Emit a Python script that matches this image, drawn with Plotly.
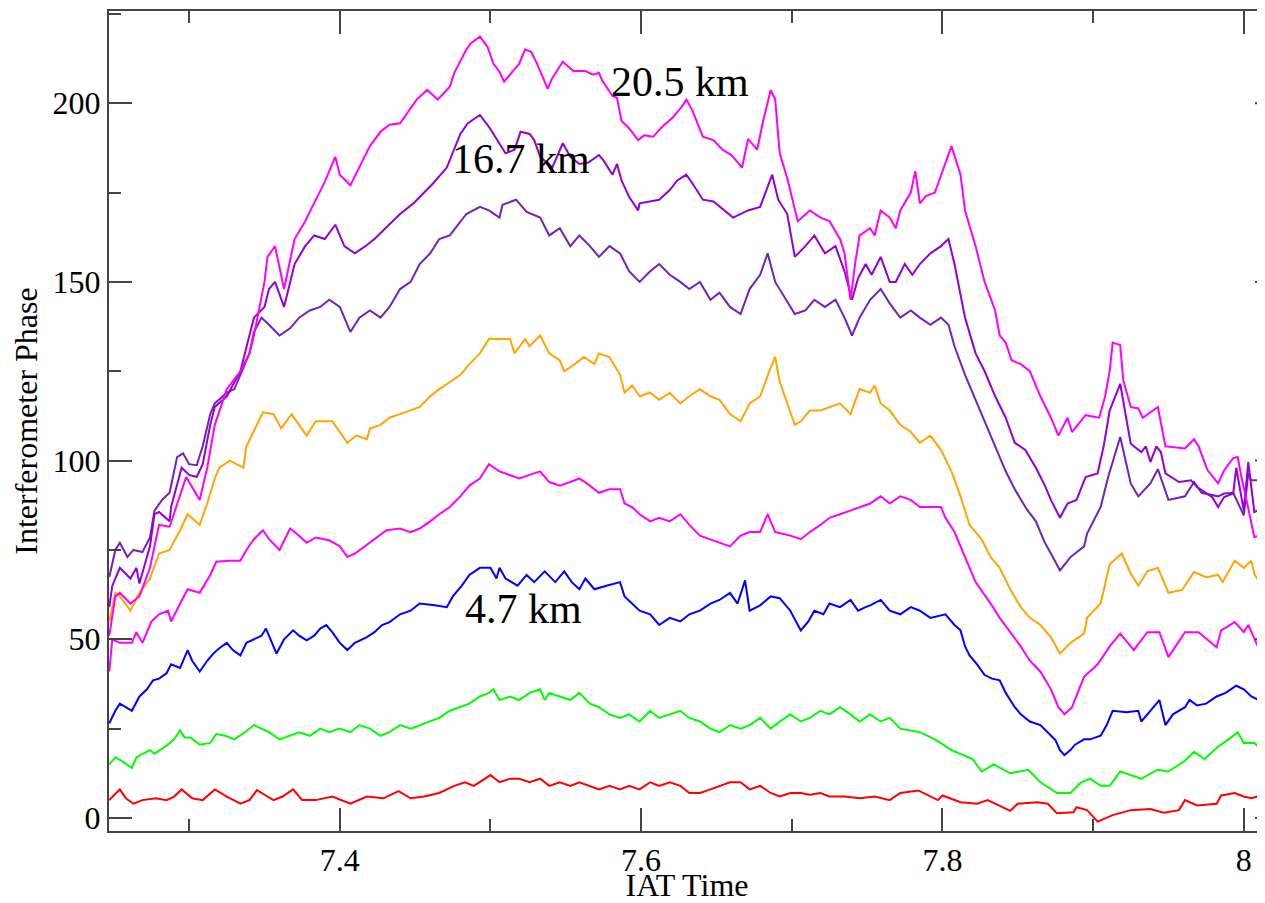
import plotly.graph_objects as go

# ---------------- data ----------------
red_t = [7.247, 7.254, 7.258, 7.263, 7.269, 7.278, 7.285, 7.290, 7.295, 7.302, 7.309, 7.317, 7.325, 7.334, 7.340,
         7.345, 7.350, 7.356, 7.362, 7.369, 7.375, 7.384, 7.395, 7.407, 7.418, 7.429, 7.439, 7.447, 7.456, 7.466,
         7.476, 7.483, 7.489, 7.496, 7.500, 7.506, 7.513, 7.519, 7.526, 7.533, 7.539, 7.546, 7.553, 7.559, 7.566,
         7.572, 7.579, 7.586, 7.592, 7.599, 7.606, 7.612, 7.619, 7.626, 7.632, 7.639, 7.646, 7.652, 7.659, 7.666,
         7.672, 7.679, 7.686, 7.692, 7.699, 7.706, 7.712, 7.719, 7.725, 7.735, 7.745, 7.755, 7.765, 7.772, 7.784,
         7.797, 7.800, 7.812, 7.823, 7.830, 7.845, 7.850, 7.863, 7.870, 7.876, 7.887, 7.889, 7.896, 7.903, 7.913,
         7.925, 7.938, 7.947, 7.957, 7.961, 7.969, 7.982, 7.985, 7.994, 8.000, 8.005, 8.009, 8.014]
red_v = [5, 8, 5.5, 4, 5, 5.5, 5, 6, 8, 5.5, 5, 8, 6, 4, 5,
         7.8, 6.5, 5, 6, 8, 5, 5, 6, 4, 6, 5.5, 7.5, 5.5, 6, 7,
         9, 10, 9, 11, 12, 10, 11, 11, 10, 11, 9, 10, 9, 10, 9,
         8, 9, 8, 9, 8, 10, 9, 10, 9, 7, 7, 8, 9, 10, 10,
         8, 9, 7, 6, 7, 7, 6.5, 7, 6, 6, 5.5, 6, 5, 7, 7.7,
         5, 6.3, 4.4, 4, 5, 2, 4, 4.4, 4, 1.3, 1.6, 3, 2.2, -1, 0.8,
         2.2, 2.5, 1.5, 2.2, 5, 3.5, 4, 6.3, 7, 6, 5.5, 6, 5]

green_t = [7.247, 7.251, 7.257, 7.262, 7.265, 7.274, 7.277, 7.286, 7.290, 7.294, 7.297, 7.301, 7.307, 7.314, 7.318,
           7.324, 7.330, 7.337, 7.343, 7.348, 7.353, 7.360, 7.367, 7.373, 7.380, 7.387, 7.393, 7.400, 7.407, 7.413,
           7.420, 7.427, 7.433, 7.440, 7.447, 7.453, 7.460, 7.466, 7.473, 7.480, 7.486, 7.493, 7.499, 7.502, 7.506,
           7.513, 7.519, 7.526, 7.533, 7.536, 7.539, 7.546, 7.553, 7.559, 7.566, 7.572, 7.579, 7.586, 7.592, 7.599,
           7.606, 7.612, 7.619, 7.626, 7.632, 7.639, 7.646, 7.652, 7.659, 7.666, 7.672, 7.679, 7.686, 7.692, 7.699,
           7.706, 7.712, 7.719, 7.725, 7.732, 7.739, 7.745, 7.752, 7.759, 7.765, 7.772, 7.785, 7.795, 7.806, 7.812,
           7.820, 7.826, 7.834, 7.845, 7.857, 7.865, 7.876, 7.885, 7.892, 7.898, 7.905, 7.911, 7.918, 7.932, 7.943,
           7.950, 7.961, 7.967, 7.974, 7.983, 7.990, 7.996, 8.000, 8.007, 8.014]
green_v = [15, 17, 15.5, 14, 17, 19, 18, 20.5, 22, 24.5, 22.5, 22.5, 20.5, 21, 23.5,
           23, 22, 24, 26, 25, 24, 22, 23, 24, 23, 25, 24, 25, 24, 26,
           25, 23, 24, 26, 25, 26, 27, 28, 30, 31, 32, 34, 35, 36, 33,
           34, 33, 35, 36, 33, 35, 34, 33, 35, 32, 31, 29, 28, 29, 27,
           30, 28, 29, 30, 28, 27, 25, 24, 26, 25, 26, 28, 25, 27, 29,
           27, 28, 30, 29, 31, 29, 27, 29, 27, 28, 25, 24, 22, 19, 18,
           16.5, 13, 15, 12.5, 13.5, 10, 7, 7, 10, 11, 9, 9, 13, 11, 13.5,
           13, 16, 18.5, 16.5, 20, 22, 24, 21, 21, 18]

blue_t = [7.247, 7.251, 7.254, 7.258, 7.262, 7.267, 7.272, 7.276, 7.280, 7.285, 7.288, 7.294, 7.299, 7.302, 7.307,
          7.312, 7.316, 7.320, 7.325, 7.329, 7.334, 7.338, 7.343, 7.348, 7.351, 7.355, 7.358, 7.363, 7.369, 7.373,
          7.378, 7.383, 7.387, 7.391, 7.395, 7.400, 7.405, 7.410, 7.415, 7.418, 7.423, 7.428, 7.433, 7.440, 7.447,
          7.453, 7.463, 7.471, 7.475, 7.481, 7.486, 7.493, 7.500, 7.504, 7.506, 7.510, 7.518, 7.524, 7.529, 7.536,
          7.543, 7.549, 7.554, 7.559, 7.563, 7.569, 7.577, 7.586, 7.589, 7.594, 7.599, 7.606, 7.612, 7.619, 7.626,
          7.632, 7.639, 7.646, 7.652, 7.659, 7.664, 7.669, 7.672, 7.679, 7.686, 7.692, 7.699, 7.706, 7.711, 7.715,
          7.721, 7.725, 7.732, 7.739, 7.744, 7.749, 7.752, 7.759, 7.765, 7.772, 7.779, 7.785, 7.792, 7.802, 7.808,
          7.812, 7.815, 7.818, 7.823, 7.828, 7.833, 7.838, 7.842, 7.845, 7.848, 7.852, 7.858, 7.865, 7.870, 7.875,
          7.878, 7.881, 7.885, 7.888, 7.894, 7.898, 7.905, 7.909, 7.913, 7.922, 7.930, 7.932, 7.938, 7.944, 7.948,
          7.953, 7.961, 7.964, 7.969, 7.975, 7.982, 7.988, 7.995, 8.000, 8.005, 8.010, 8.014]
blue_v = [26.5, 30, 32, 31, 30, 34, 36, 38.5, 39, 40.5, 43, 42, 47, 44, 41,
          44, 46, 47.5, 49, 47, 45.5, 49, 50, 51, 53, 49, 46, 50, 52.5, 51,
          49.7, 51, 53, 54, 52, 49, 47, 49, 50, 50.6, 52, 54, 54.8, 57, 58,
          60, 59.5, 59, 62, 65, 68, 70, 70, 67, 70, 67, 65, 68, 66, 69,
          66, 69, 66, 64, 67, 64, 65, 66, 62, 60, 58, 57, 54, 56, 55,
          57, 58, 60, 61, 63, 60, 66.5, 58, 59.5, 62, 61.5, 58, 52.5, 55, 58,
          57, 60, 59, 61, 58, 59, 59.5, 61, 58, 57, 59, 58, 56, 57, 54,
          52.5, 48, 45.5, 43, 40, 39, 38.5, 35, 33, 31, 29, 27, 26, 24, 21.8,
          19, 17.6, 19, 20.5, 22, 22, 23, 26, 30, 29.6, 30, 27, 30, 33, 26,
          29, 31, 33, 31.5, 32, 34, 35, 37, 36, 34, 33, 31]

magenta_low_t = [7.247, 7.249, 7.254, 7.262, 7.265, 7.269, 7.275, 7.280, 7.286, 7.288, 7.294, 7.299, 7.307, 7.314,
                 7.318, 7.327, 7.334, 7.338, 7.343, 7.349, 7.353, 7.360, 7.367, 7.373, 7.378, 7.384, 7.393, 7.400,
                 7.405, 7.410, 7.415, 7.423, 7.431, 7.440, 7.447, 7.453, 7.460, 7.466, 7.473, 7.480, 7.486, 7.493,
                 7.499, 7.506, 7.513, 7.519, 7.526, 7.533, 7.539, 7.546, 7.553, 7.559, 7.566, 7.572, 7.579, 7.586,
                 7.589, 7.594, 7.599, 7.606, 7.612, 7.619, 7.626, 7.632, 7.639, 7.646, 7.652, 7.659, 7.666, 7.672,
                 7.679, 7.684, 7.689, 7.699, 7.706, 7.712, 7.719, 7.725, 7.732, 7.739, 7.745, 7.752, 7.759, 7.765,
                 7.772, 7.779, 7.785, 7.792, 7.799, 7.802, 7.808, 7.815, 7.822, 7.832, 7.838, 7.845, 7.852, 7.858,
                 7.865, 7.872, 7.877, 7.881, 7.886, 7.894, 7.903, 7.911, 7.918, 7.927, 7.936, 7.944, 7.950, 7.961,
                 7.970, 7.982, 7.985, 7.994, 8.000, 8.003, 8.011, 8.014]
magenta_low_v = [41, 50, 49, 49, 52, 49, 55, 57, 58, 55, 60, 64, 63, 68,
                 71.7, 72, 72, 75, 78, 80.5, 78, 75, 81, 79, 77, 78.5, 77.7, 76,
                 73, 74, 75.5, 78, 80.5, 81, 80, 81, 83, 85, 87, 90, 93, 95,
                 99, 97, 96, 95, 96, 97, 94, 93, 94, 95, 93, 91, 92, 92,
                 88, 87, 85, 83, 84, 83, 85, 82, 79, 78, 77, 76, 79, 80,
                 80, 85, 80, 79, 78, 80, 82, 84, 85, 86, 87, 88, 90, 88,
                 90, 89, 87, 87, 87, 84, 80, 73, 66, 60, 56, 52, 48, 44,
                 41, 36, 31, 29, 31, 39.5, 43, 48, 51.6, 47, 52, 52, 45, 52,
                 52, 47.8, 52.5, 54.8, 52, 54, 46.4, 46]

orange_t = [7.247, 7.251, 7.254, 7.261, 7.267, 7.274, 7.280, 7.287, 7.294, 7.299, 7.307, 7.312, 7.317, 7.320,
            7.327, 7.336, 7.338, 7.342, 7.349, 7.356, 7.361, 7.368, 7.373, 7.378, 7.384, 7.395, 7.405, 7.411,
            7.418, 7.420, 7.427, 7.433, 7.440, 7.447, 7.453, 7.460, 7.466, 7.473, 7.480, 7.486, 7.493, 7.499,
            7.506, 7.513, 7.516, 7.523, 7.526, 7.533, 7.539, 7.546, 7.549, 7.556, 7.562, 7.569, 7.572, 7.579,
            7.586, 7.589, 7.594, 7.599, 7.606, 7.612, 7.619, 7.626, 7.632, 7.639, 7.646, 7.652, 7.659, 7.666,
            7.672, 7.679, 7.686, 7.689, 7.692, 7.699, 7.702, 7.706, 7.712, 7.719, 7.725, 7.732, 7.739, 7.745,
            7.752, 7.755, 7.759, 7.765, 7.772, 7.779, 7.785, 7.792, 7.799, 7.806, 7.812, 7.818, 7.826, 7.832,
            7.838, 7.845, 7.852, 7.858, 7.865, 7.872, 7.878, 7.885, 7.894, 7.896, 7.905, 7.911, 7.919, 7.925,
            7.930, 7.936, 7.943, 7.950, 7.959, 7.967, 7.975, 7.983, 7.986, 7.994, 8.000, 8.005, 8.007, 8.012, 8.014]
orange_v = [55, 63, 62, 58, 63, 67, 74, 75, 80.5, 85, 82, 88, 95, 98,
            100, 98, 104, 107.6, 113.5, 113, 109, 113, 110, 107, 111, 111, 105, 107,
            106, 109, 110, 112, 113, 114, 115, 118, 120, 122, 124, 127, 130, 134,
            134, 134, 130, 134, 132, 135, 130, 128, 125, 127, 129, 127, 130, 129,
            124, 119, 121, 118, 119, 117, 119, 116, 118, 120, 118, 117, 113, 111,
            116, 118, 126, 129, 122, 114, 110, 111, 114, 114, 115, 116, 113, 120,
            119, 121, 116, 114, 110, 108, 105, 107, 103, 97, 90, 82, 78, 73,
            70, 64, 59, 56, 54, 50.6, 46, 49, 51.6, 56, 60, 71, 74, 68.4,
            65, 69, 70, 63, 63.8, 68.8, 67.4, 68, 66, 72, 70, 72, 68.4, 64.6, 59.6]

indigo_t = [7.247, 7.251, 7.254, 7.259, 7.263, 7.269, 7.274, 7.277, 7.282, 7.287, 7.292, 7.296, 7.300, 7.305,
            7.309, 7.314, 7.317, 7.325, 7.330, 7.340, 7.343, 7.348, 7.353, 7.360, 7.367, 7.373, 7.380, 7.387,
            7.393, 7.400, 7.407, 7.413, 7.420, 7.427, 7.433, 7.440, 7.447, 7.453, 7.460, 7.466, 7.473, 7.484,
            7.493, 7.499, 7.506, 7.508, 7.517, 7.524, 7.533, 7.539, 7.546, 7.553, 7.559, 7.566, 7.572, 7.579,
            7.586, 7.592, 7.599, 7.606, 7.612, 7.619, 7.626, 7.632, 7.639, 7.646, 7.652, 7.659, 7.666, 7.672,
            7.679, 7.684, 7.689, 7.696, 7.702, 7.709, 7.715, 7.722, 7.729, 7.735, 7.740, 7.745, 7.752, 7.759,
            7.765, 7.772, 7.779, 7.785, 7.792, 7.799, 7.804, 7.808, 7.815, 7.822, 7.828, 7.835, 7.842, 7.848,
            7.855, 7.862, 7.868, 7.872, 7.878, 7.885, 7.894, 7.896, 7.905, 7.910, 7.918, 7.925, 7.930, 7.938,
            7.943, 7.950, 7.961, 7.967, 7.972, 7.983, 7.987, 7.993, 8.000, 8.003, 8.005, 8.013, 8.014]
indigo_v = [67.4, 75, 77, 73, 75, 74.4, 78.5, 86, 89, 91, 101, 102, 99, 98.7,
            104, 113, 116, 119, 120, 130, 136, 140, 138, 135, 137, 140, 142, 143,
            145, 143, 136, 140, 142, 140, 143, 148, 150, 155, 158, 162, 163, 169,
            171, 170, 168, 171.6, 173, 169.6, 168, 163, 165, 160, 163, 160, 157, 160,
            158, 153, 150, 153, 155, 152, 150, 148, 150, 145, 147, 143, 141, 148,
            152, 158, 150, 145, 141, 142, 145, 143, 145, 140, 135, 140, 145, 148,
            144, 140, 142, 140, 138, 140, 138, 132, 124, 117, 111, 104, 97, 92,
            87, 83, 77, 74, 69.3, 73, 76, 79.6, 87, 95.4, 106.6, 93.6, 90, 93.6,
            97.6, 89, 90, 94, 91, 90, 90.8, 91, 84.7, 96.4, 94.5, 94.5, 95]

violet_t = [7.247, 7.249, 7.254, 7.261, 7.265, 7.267, 7.274, 7.277, 7.280, 7.287, 7.288, 7.295, 7.300, 7.305,
            7.309, 7.314, 7.317, 7.325, 7.334, 7.340, 7.343, 7.350, 7.353, 7.357, 7.363, 7.370, 7.377, 7.383,
            7.390, 7.397, 7.403, 7.410, 7.417, 7.423, 7.430, 7.440, 7.449, 7.462, 7.471, 7.480, 7.485, 7.493,
            7.499, 7.506, 7.510, 7.516, 7.520, 7.526, 7.529, 7.533, 7.541, 7.548, 7.553, 7.559, 7.565, 7.572,
            7.575, 7.581, 7.584, 7.587, 7.592, 7.598, 7.599, 7.612, 7.619, 7.624, 7.630, 7.634, 7.641, 7.648,
            7.655, 7.661, 7.671, 7.679, 7.687, 7.691, 7.697, 7.702, 7.709, 7.715, 7.722, 7.729, 7.735, 7.740,
            7.744, 7.749, 7.753, 7.759, 7.765, 7.769, 7.775, 7.780, 7.785, 7.792, 7.799, 7.804, 7.808, 7.815,
            7.822, 7.828, 7.835, 7.842, 7.848, 7.855, 7.862, 7.868, 7.872, 7.878, 7.883, 7.889, 7.895, 7.903,
            7.907, 7.911, 7.918, 7.925, 7.932, 7.935, 7.938, 7.942, 7.945, 7.948, 7.957, 7.965, 7.969, 7.979,
            7.983, 7.987, 7.993, 7.995, 8.000, 8.003, 8.007, 8.014]
violet_v = [59, 65, 70, 67, 70, 65.6, 76, 85, 85.6, 83, 87, 98, 96, 95.4,
            99, 110, 115, 118, 125, 135, 140, 143, 148, 150, 143, 155, 160, 163,
            162, 166, 160, 158, 160, 162, 165, 169, 172, 177.6, 182, 191.4, 194.4, 196.7,
            193.4, 188.8, 186, 187, 192, 191.4, 189.7, 185, 182, 188.8, 185, 183, 183.4, 185.5,
            184, 180, 183, 178.4, 173.8, 170, 172, 173, 175.7, 178.4, 180, 177.6, 173, 172.5,
            170, 168, 170, 171, 180, 173, 169, 157, 160, 163, 158, 160, 153, 145,
            151, 155, 152, 157, 150, 150, 155, 152, 155, 158, 160, 162, 155, 140,
            130, 125, 118, 112, 105, 103, 98, 93, 89, 84, 88, 89, 95.4, 96.4,
            104, 114, 121.5, 104.7, 102.4, 104, 99.6, 104, 102.4, 96.4, 94, 94.5, 92.6, 89.8,
            87, 89.8, 90.8, 98, 86, 99.6, 85.6, 87]

magenta_top_t = [7.247, 7.251, 7.254, 7.261, 7.267, 7.274, 7.280, 7.287, 7.289, 7.298, 7.307, 7.312, 7.317,
                 7.325, 7.334, 7.340, 7.343, 7.348, 7.350, 7.352, 7.357, 7.363, 7.370, 7.377, 7.383, 7.390,
                 7.397, 7.400, 7.407, 7.413, 7.420, 7.427, 7.433, 7.440, 7.451, 7.458, 7.465, 7.473, 7.476,
                 7.484, 7.487, 7.493, 7.498, 7.502, 7.506, 7.509, 7.514, 7.519, 7.523, 7.527, 7.531, 7.538,
                 7.541, 7.548, 7.555, 7.563, 7.568, 7.572, 7.574, 7.581, 7.584, 7.587, 7.592, 7.598, 7.602,
                 7.608, 7.614, 7.621, 7.627, 7.630, 7.634, 7.641, 7.648, 7.654, 7.660, 7.667, 7.671, 7.677,
                 7.681, 7.686, 7.689, 7.692, 7.697, 7.704, 7.712, 7.719, 7.725, 7.732, 7.735, 7.739, 7.742,
                 7.745, 7.752, 7.755, 7.759, 7.765, 7.769, 7.772, 7.779, 7.782, 7.785, 7.789, 7.795, 7.802,
                 7.806, 7.812, 7.815, 7.822, 7.828, 7.835, 7.838, 7.842, 7.846, 7.852, 7.858, 7.865, 7.872,
                 7.877, 7.883, 7.886, 7.895, 7.904, 7.908, 7.911, 7.913, 7.918, 7.920, 7.925, 7.930, 7.933,
                 7.938, 7.943, 7.948, 7.961, 7.967, 7.970, 7.976, 7.983, 7.987, 7.993, 7.996, 7.998, 8.003,
                 8.007, 8.014]
magenta_top_v = [51, 62, 63, 60, 62, 70, 82, 81.5, 84, 95.4, 89, 98, 110,
                 120, 125, 130, 135, 145, 150, 157, 160, 148, 162, 167, 172, 178,
                 185, 180, 177, 182, 188, 192, 194, 194.4, 201, 203.7, 201, 204.6, 208.5,
                 215, 216.8, 218.6, 215.8, 211, 208.8, 206, 208.5, 211, 215, 214.4, 211, 204,
                 207, 211.6, 209, 209, 208, 208.5, 206.5, 202, 201.5, 195, 193, 189.7, 191,
                 190.6, 193.4, 196, 199, 201, 198, 190.6, 189.7, 187, 185.5, 182, 190, 187,
                 195, 203.7, 201, 186, 179, 167, 170, 168, 167, 162, 158, 145, 155,
                 163, 165, 163, 170, 168, 165, 170, 175, 181, 172, 174, 175, 183,
                 188, 180, 170, 160, 150, 142, 135, 133, 128, 127, 125, 118, 112,
                 107, 112, 108, 112.7, 112, 118, 125, 133, 132.3, 122.5, 115, 114.6, 112,
                 113.6, 115, 104, 103.4, 106, 104, 97.3, 93.6, 97.3, 100.7, 101, 96.4, 86.6,
                 78.6, 79.6]

series = [
    ("red", red_t, red_v, "#ff0000"),
    ("green", green_t, green_v, "#00ff00"),
    ("blue (4.7 km)", blue_t, blue_v, "#0000ff"),
    ("magenta", magenta_low_t, magenta_low_v, "#ff00ff"),
    ("orange", orange_t, orange_v, "#ffa500"),
    ("indigo", indigo_t, indigo_v, "#7221bc"),
    ("violet (16.7 km)", violet_t, violet_v, "#9400d3"),
    ("magenta (20.5 km)", magenta_top_t, magenta_top_v, "#ff00ff"),
]

x_tick_vals = [7.4, 7.6, 7.8, 8.0]
x_tick_text = ["7.4", "7.6", "7.8", "8"]
x_minor_vals = [7.3, 7.5, 7.7, 7.9]
y_tick_vals = [0, 50, 100, 150, 200]
y_tick_text = ["0", "50", "100", "150", "200"]
y_minor_vals = [25, 75, 125, 175, 225]

labels = [("20.5 km", 7.579, 206.0), ("16.7 km", 7.473, 184.5), ("4.7 km", 7.482, 58.5)]

X_RANGE = [7.2468, 8.0141]
Y_RANGE = [-3.64, 225.8]

FONT = "Liberation Serif"
AX = "#444444"

fig = go.Figure()
for name, t, v, c in series:
    fig.add_trace(go.Scatter(x=t, y=v, mode="lines", name=name, hoverinfo="skip",
                             line=dict(color=c, width=2), showlegend=False))

for text, lx, ly in labels:
    fig.add_annotation(x=lx, y=ly, text=text, showarrow=False, xanchor="left", yanchor="middle",
                       font=dict(family=FONT, size=42, color="black"))

# right-hand frame is cut off in the reference: only the stubs of the major y ticks show at the edge
PLOT_W = 1156
for v in y_tick_vals:
    fig.add_shape(type="line", xref="paper", yref="y", x0=1 - 10 / PLOT_W, x1=1, y0=v, y1=v,
                  line=dict(color=AX, width=2))

fig.update_layout(
    width=1257, height=895,
    margin=dict(l=101, r=0, t=3, b=72, pad=0),
    paper_bgcolor="white", plot_bgcolor="white",
    font=dict(family=FONT, color="black"),
    showlegend=False,
    hovermode=False,
    dragmode=False,
    xaxis=dict(range=X_RANGE, tickmode="array", tickvals=x_tick_vals, ticktext=x_tick_text,
               ticks="inside", ticklen=23, tickwidth=2, tickcolor=AX,
               minor=dict(tickmode="array", tickvals=x_minor_vals, ticks="inside", ticklen=12,
                          tickwidth=2, tickcolor=AX, showgrid=False),
               showline=True, linewidth=2, linecolor=AX, mirror="ticks",
               showgrid=False, zeroline=False, automargin=False, showspikes=False,
               tickfont=dict(family=FONT, size=32, color="black"),
               title=dict(text="IAT Time", font=dict(family=FONT, size=32, color="black"), standoff=4)),
    yaxis=dict(range=Y_RANGE, tickmode="array", tickvals=y_tick_vals, ticktext=y_tick_text,
               ticks="inside", ticklen=23, tickwidth=2, tickcolor=AX,
               minor=dict(tickmode="array", tickvals=y_minor_vals, ticks="inside", ticklen=12,
                          tickwidth=2, tickcolor=AX, showgrid=False),
               showline=True, linewidth=2, linecolor=AX, mirror=False,
               showgrid=False, zeroline=False, automargin=False, showspikes=False,
               tickfont=dict(family=FONT, size=32, color="black"),
               title=dict(text="Interferometer Phase", font=dict(family=FONT, size=32, color="black"),
                          standoff=6)),
)

fig.write_html("out.html",
               config={"staticPlot": True, "displayModeBar": False},
               post_script="document.documentElement.style.overflow='hidden';"
                           "document.body.style.overflow='hidden';")
